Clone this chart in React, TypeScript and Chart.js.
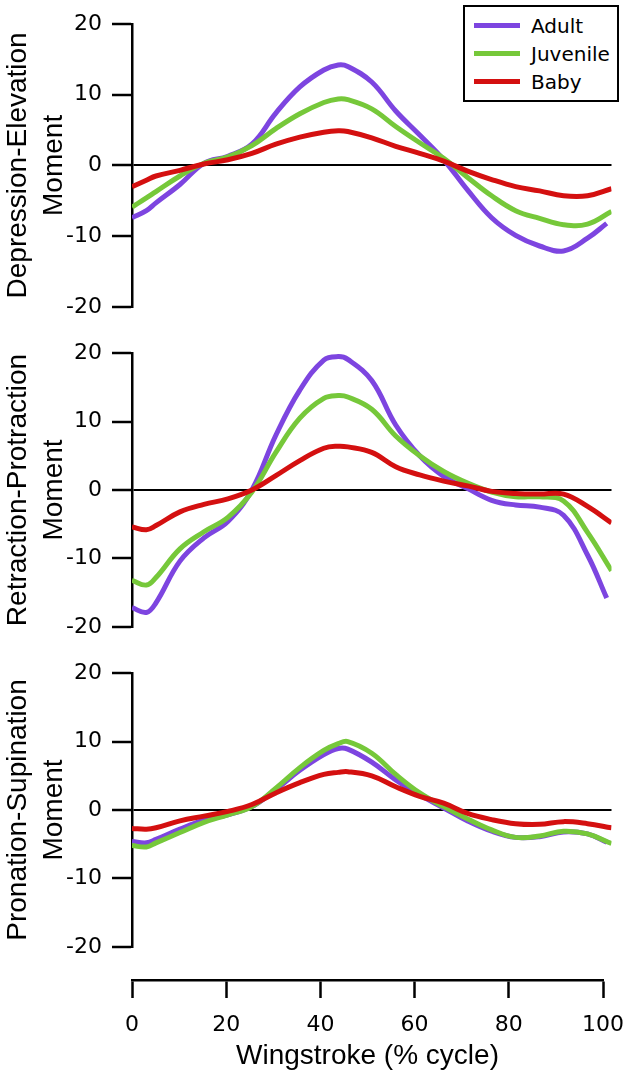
import React, { useEffect, useRef } from 'react';
import { Chart, registerables } from 'chart.js';

Chart.register(...registerables);

// ---------- data ----------
const seriesNames = ['Adult', 'Juvenile', 'Baby'];
const strokeX = [0, 3, 5, 10, 15, 20, 25, 30, 35, 40, 43, 45, 50, 55, 60, 65, 70, 75, 80, 85, 90, 95, 100];
const adultStrokeX = [0, 3, 5, 10, 15, 20, 25, 30, 35, 40, 43, 45, 50, 55, 60, 65, 70, 75, 80, 85, 90, 95, 99];
const yTicks = [-20, -10, 0, 10, 20];
const xTicks = [0, 20, 40, 60, 80, 100];
const xTitle = 'Wingstroke (% cycle)';
const panelTitles = [
  ['Depression-Elevation', 'Moment'],
  ['Retraction-Protraction', 'Moment'],
  ['Pronation-Supination', 'Moment'],
];

const depElevAdult = [-7.4, -6.4, -5.3, -2.7, 0.3, 1.3, 3.0, 7.4, 11.1, 13.5, 14.2, 14.0, 11.8, 7.7, 4.3, 0.8, -3.5, -7.4, -9.9, -11.4, -12.1, -10.3, -8.2];
const depElevJuvenile = [-5.9, -4.6, -3.7, -1.5, 0.3, 1.2, 2.8, 5.2, 7.3, 8.9, 9.4, 9.3, 8.0, 5.5, 3.2, 1.0, -1.7, -4.3, -6.4, -7.5, -8.4, -8.3, -6.5];
const depElevBaby = [-3.0, -2.1, -1.5, -0.7, 0.2, 0.8, 1.7, 3.0, 4.0, 4.7, 4.9, 4.8, 3.9, 2.7, 1.7, 0.6, -0.8, -2.0, -3.0, -3.6, -4.3, -4.3, -3.3];

const retProAdult = [-17.2, -17.9, -16.5, -10.4, -7.0, -4.6, 0.0, 8.0, 14.6, 19.0, 19.5, 19.1, 16.0, 9.5, 5.0, 2.0, 0.2, -1.5, -2.2, -2.5, -3.7, -9.5, -15.8];
const retProJuvenile = [-13.2, -13.9, -12.8, -8.6, -6.1, -4.0, -0.3, 5.5, 10.5, 13.4, 13.8, 13.6, 11.8, 7.9, 5.0, 2.7, 1.0, -0.3, -1.0, -1.0, -1.6, -6.2, -11.8];
const retProBaby = [-5.4, -5.8, -5.2, -3.2, -2.1, -1.3, 0.0, 2.1, 4.3, 6.1, 6.4, 6.3, 5.5, 3.4, 2.2, 1.3, 0.6, -0.2, -0.5, -0.6, -0.6, -2.4, -4.8];

const proSupAdult = [-4.6, -4.8, -4.3, -2.8, -1.5, -0.7, 0.5, 3.0, 5.8, 8.1, 9.0, 8.9, 7.0, 4.4, 2.2, 0.3, -1.6, -3.1, -4.0, -3.9, -3.2, -3.5, -4.7];
const proSupJuvenile = [-5.2, -5.4, -4.8, -3.3, -1.8, -0.7, 0.5, 3.2, 6.2, 8.7, 9.7, 10.0, 8.3, 5.2, 2.5, 0.5, -1.3, -2.9, -4.0, -3.8, -3.1, -3.5, -4.9];
const proSupBaby = [-2.7, -2.8, -2.6, -1.6, -0.9, -0.2, 0.8, 2.5, 4.0, 5.2, 5.5, 5.6, 5.0, 3.4, 2.0, 1.0, -0.5, -1.4, -2.0, -2.1, -1.7, -2.0, -2.6];

const panelSeries = [
  [depElevAdult, depElevJuvenile, depElevBaby],
  [retProAdult, retProJuvenile, retProBaby],
  [proSupAdult, proSupJuvenile, proSupBaby],
];

// ---------- styles / layout ----------
const COLORS = ['#7D45E0', '#76C83A', '#D41010'];
const DRAW_ORDER = [3, 2, 1];
const W = 638;
const AREA_LEFT = 132;
const PAD_RIGHT = 26.5;
const TICK_FONT = { family: 'DejaVu Sans', size: 22 };
const TITLE_FONT = { family: 'Liberation Sans', size: 28, lineHeight: 36 / 28 };

const panelLayout = [
  { top: 0, height: 330, padTop: 24, padBottom: 22 },
  { top: 330, height: 320, padTop: 16, padBottom: 19 },
  { top: 650, height: 320, padTop: 20, padBottom: 17 },
];
const axisLayout = { top: 962, height: 117, padTop: 8, scaleHeight: 99 };

function PanelChart({ index }: { index: number }) {
  const ref = useRef<HTMLCanvasElement>(null);
  const lay = panelLayout[index];
  useEffect(() => {
    const series = panelSeries[index];
    const datasets = series.map((vals, si) => {
      const xs = si === 0 ? adultStrokeX : strokeX;
      return {
        label: seriesNames[si],
        data: xs.map((x, i) => ({ x, y: vals[i] })),
        borderColor: COLORS[si],
        backgroundColor: COLORS[si],
        borderWidth: 5,
        pointRadius: 0,
        tension: 0.4,
        order: DRAW_ORDER[si],
        fill: false,
      };
    });
    const chart = new Chart(ref.current as HTMLCanvasElement, {
      type: 'line',
      data: { datasets },
      options: {
        animation: false,
        responsive: false,
        layout: { padding: { top: lay.padTop, bottom: lay.padBottom, left: 0, right: PAD_RIGHT } },
        plugins: { legend: { display: false }, tooltip: { enabled: false } },
        scales: {
          x: { type: 'linear', min: 0, max: 100, display: false },
          y: {
            type: 'linear',
            min: -20,
            max: 20,
            afterBuildTicks: (s: any) => {
              s.ticks = yTicks.map((v) => ({ value: v }));
            },
            afterFit: (s: any) => {
              s.width = AREA_LEFT;
            },
            ticks: { font: TICK_FONT, color: '#000', padding: 10 },
            grid: {
              color: (c: any) => (c.tick && c.tick.value === 0 ? '#000' : 'rgba(0,0,0,0)'),
              tickColor: '#000',
              lineWidth: 2,
              tickWidth: 2.5,
              tickLength: 20,
              drawTicks: true,
            },
            border: { display: true, color: '#000', width: 2.5 },
            title: {
              display: true,
              text: panelTitles[index],
              font: TITLE_FONT,
              color: '#000',
              padding: { top: 0, bottom: 0 },
            },
          },
        },
      },
    });
    return () => chart.destroy();
  }, []);
  return (
    <canvas
      ref={ref}
      width={W}
      height={lay.height}
      style={{ position: 'absolute', left: 0, top: lay.top, display: 'block' }}
    />
  );
}

function AxisChart() {
  const ref = useRef<HTMLCanvasElement>(null);
  useEffect(() => {
    const chart = new Chart(ref.current as HTMLCanvasElement, {
      type: 'line',
      data: { datasets: [] },
      options: {
        animation: false,
        responsive: false,
        layout: { padding: { top: axisLayout.padTop, bottom: 0, left: AREA_LEFT, right: PAD_RIGHT } },
        plugins: { legend: { display: false }, tooltip: { enabled: false } },
        scales: {
          y: { type: 'linear', min: 0, max: 1, display: false },
          x: {
            type: 'linear',
            min: 0,
            max: 100,
            afterBuildTicks: (s: any) => {
              s.ticks = xTicks.map((v) => ({ value: v }));
            },
            afterFit: (s: any) => {
              s.height = axisLayout.scaleHeight;
            },
            ticks: { font: TICK_FONT, color: '#000', padding: 14, autoSkip: false, maxRotation: 0 },
            grid: {
              drawOnChartArea: false,
              color: '#000',
              tickColor: '#000',
              tickWidth: 2.5,
              tickLength: 18,
            },
            border: { display: true, color: '#000', width: 2.5 },
            title: {
              display: true,
              text: xTitle,
              font: { family: 'Liberation Sans', size: 28, lineHeight: 1.2 },
              color: '#000',
              padding: { top: 0, bottom: 6 },
            },
          },
        },
      },
    });
    return () => chart.destroy();
  }, []);
  return (
    <canvas
      ref={ref}
      width={W}
      height={axisLayout.height}
      style={{ position: 'absolute', left: 0, top: axisLayout.top, display: 'block' }}
    />
  );
}

function Legend() {
  return (
    <div
      style={{
        position: 'absolute',
        left: 463,
        top: 5,
        width: 156,
        height: 97,
        boxSizing: 'border-box',
        border: '2.5px solid #000',
        background: '#fff',
        fontFamily: 'DejaVu Sans',
        fontSize: 20,
        color: '#000',
      }}
    >
      {seriesNames.map((name, i) => (
        <div
          key={name}
          style={{ position: 'absolute', left: 0, top: 18.5 + i * 28 - 14, height: 28, width: '100%' }}
        >
          <div
            style={{
              position: 'absolute',
              left: 9,
              top: 11.5,
              width: 46,
              height: 5,
              background: COLORS[i],
            }}
          />
          <div style={{ position: 'absolute', left: 66, top: 0, lineHeight: '28px', whiteSpace: 'nowrap' }}>{name}</div>
        </div>
      ))}
    </div>
  );
}

export default function App() {
  return (
    <div style={{ position: 'absolute', left: 0, top: 0, width: W, height: 1079, background: '#fff', overflow: 'hidden' }}>
      <PanelChart index={0} />
      <PanelChart index={1} />
      <PanelChart index={2} />
      <AxisChart />
      <Legend />
    </div>
  );
}
